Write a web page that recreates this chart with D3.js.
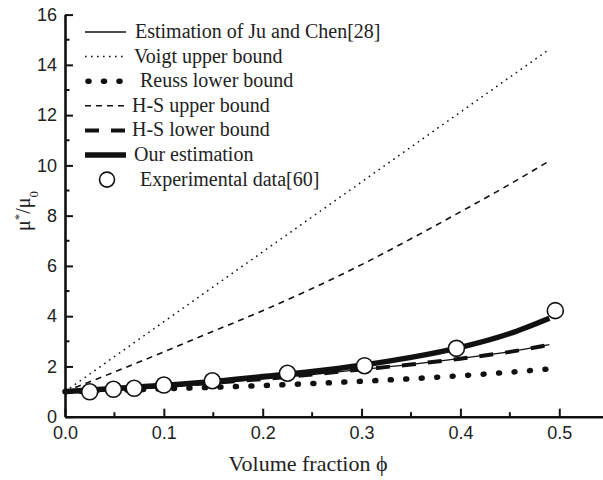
<!DOCTYPE html>
<html>
<head>
<meta charset="utf-8">
<script src="https://cdn.jsdelivr.net/npm/d3@7"></script>
<style>
  body { margin: 0; background: #fff; }
  svg { display: block; }
</style>
</head>
<body>
<svg id="chart" width="603" height="480"></svg>
<script>
// Volume fraction samples shared by the model curves
const phiGrid   = [0, 0.05, 0.10, 0.15, 0.20, 0.25, 0.30, 0.35, 0.40, 0.45, 0.49];
// Normalised effective shear modulus mu*/mu0 for each model
const juChen    = [1.00, 1.10, 1.22, 1.35, 1.50, 1.68, 1.88, 2.08, 2.32, 2.59, 2.87];
const voigtUp   = [1.00, 2.39, 3.78, 5.17, 6.56, 7.95, 9.34, 10.73, 12.12, 13.51, 14.62];
const reussLow  = [1.00, 1.05, 1.11, 1.17, 1.24, 1.32, 1.41, 1.51, 1.63, 1.77, 1.90];
const hsUpper   = [1.00, 1.78, 2.58, 3.40, 4.22, 5.10, 6.05, 7.08, 8.15, 9.25, 10.18];
const hsLower   = [1.00, 1.10, 1.22, 1.35, 1.50, 1.68, 1.88, 2.08, 2.31, 2.58, 2.86];
const ourModel  = [1.00, 1.12, 1.25, 1.40, 1.60, 1.80, 2.05, 2.36, 2.76, 3.31, 3.92];
// Measured values
const expPhi    = [0.025, 0.049, 0.070, 0.100, 0.149, 0.225, 0.303, 0.396, 0.496];
const expValue  = [0.99, 1.09, 1.13, 1.26, 1.43, 1.73, 2.03, 2.72, 4.22];
// Axis ticks
const xTicks    = [0, 0.1, 0.2, 0.3, 0.4, 0.5];
const xMinor    = [0.05, 0.15, 0.25, 0.35, 0.45, 0.55];
const yTicks    = [0, 2, 4, 6, 8, 10, 12, 14, 16];
const yMinor    = [1, 3, 5, 7, 9, 11, 13, 15];
// Legend entries
const legendLabels = [
  "Estimation of Ju and Chen[28]",
  "Voigt upper bound",
  "Reuss lower bound",
  "H-S upper bound",
  "H-S lower bound",
  "Our estimation",
  "Experimental data[60]"
];

const svg = d3.select("#chart");
const x = d3.scaleLinear().domain([0, 0.55]).range([65, 608.7]);
const y = d3.scaleLinear().domain([0, 16]).range([416.7, 14.6]);

const styles = {
  juChen:  { width: 1.3, dash: null, cap: "butt" },
  voigt:   { width: 1.5, dash: "1.6 4.4", cap: "butt" },
  reuss:   { width: 5.5, dash: "1 14.5", cap: "round" },
  hsUp:    { width: 1.6, dash: "6 5", cap: "butt" },
  hsLow:   { width: 4,   dash: "14 12", cap: "butt" },
  ours:    { width: 5.5, dash: null, cap: "butt" }
};

const line = d3.line()
  .x(d => x(d[0]))
  .y(d => y(d[1]))
  .curve(d3.curveMonotoneX);

function drawSeries(values, st) {
  svg.append("path")
    .datum(phiGrid.map((p, i) => [p, values[i]]))
    .attr("d", line)
    .attr("fill", "none")
    .attr("stroke", "#111")
    .attr("stroke-width", st.width)
    .attr("stroke-linecap", st.cap)
    .attr("stroke-dasharray", st.dash);
}

drawSeries(reussLow, styles.reuss);
drawSeries(voigtUp, styles.voigt);
drawSeries(hsUpper, styles.hsUp);
drawSeries(hsLower, styles.hsLow);
drawSeries(juChen, styles.juChen);
drawSeries(ourModel, styles.ours);

svg.append("g").selectAll("circle")
  .data(expPhi.map((p, i) => [p, expValue[i]]))
  .join("circle")
  .attr("cx", d => x(d[0]))
  .attr("cy", d => y(d[1]))
  .attr("r", 8)
  .attr("fill", "#fff")
  .attr("stroke", "#111")
  .attr("stroke-width", 1.6);

// Axes with inward ticks
const axisFont = "'Liberation Sans', Arial, sans-serif";
const gx = svg.append("g").attr("transform", `translate(0,${y(0)})`)
  .call(d3.axisBottom(x).tickValues(xTicks).tickFormat(d3.format(".1f")).tickSizeInner(-8).tickSizeOuter(0).tickPadding(10));
gx.append("g").selectAll("line").data(xMinor).join("line")
  .attr("x1", d => x(d)).attr("x2", d => x(d)).attr("y1", 0).attr("y2", -4.5)
  .attr("stroke", "#111").attr("stroke-width", 2);

const gy = svg.append("g").attr("transform", `translate(${x(0)},0)`)
  .call(d3.axisLeft(y).tickValues(yTicks).tickFormat(d3.format("d")).tickSizeInner(-8).tickSizeOuter(0).tickPadding(8));
gy.append("g").selectAll("line").data(yMinor).join("line")
  .attr("y1", d => y(d)).attr("y2", d => y(d)).attr("x1", 0).attr("x2", 4.5)
  .attr("stroke", "#111").attr("stroke-width", 2);

[gx, gy].forEach(g => {
  g.select(".domain").attr("stroke", "#111").attr("stroke-width", 2.6);
  g.selectAll(".tick line").attr("stroke", "#111").attr("stroke-width", 2);
  g.selectAll(".tick text").attr("fill", "#222")
    .style("font-family", axisFont).style("font-size", "18px");
});

// Axis titles
const serif = "'Liberation Serif', 'Times New Roman', serif";
svg.append("text")
  .attr("x", 308).attr("y", 471)
  .attr("text-anchor", "middle")
  .style("font-family", serif).style("font-size", "22px").attr("fill", "#222")
  .text("Volume fraction \u03D5");

const yl = svg.append("text")
  .attr("transform", "translate(30,211) rotate(-90)")
  .attr("text-anchor", "middle")
  .style("font-family", serif).style("font-size", "20px").attr("fill", "#222");
yl.append("tspan").text("\u03BC");
yl.append("tspan").attr("baseline-shift", "super").style("font-size", "13px").text("*");
yl.append("tspan").text("/\u03BC");
yl.append("tspan").attr("baseline-shift", "sub").style("font-size", "13px").text("0");

// Legend
const legendKeys = ["juChen", "voigt", "reuss", "hsUp", "hsLow", "ours", "exp"];
const legendTextX = [135, 134, 140, 132, 132, 134, 140];
const lg = svg.append("g");
legendKeys.forEach((k, i) => {
  const cy = 32 + i * 24.6;
  if (k === "exp") {
    lg.append("circle").attr("cx", 107).attr("cy", cy).attr("r", 7.5)
      .attr("fill", "#fff").attr("stroke", "#111").attr("stroke-width", 1.6);
  } else {
    const st = styles[k];
    const x1 = k === "reuss" ? 88 : 85;
    const x2 = k === "reuss" ? 120 : 126;
    lg.append("line").attr("x1", x1).attr("x2", x2).attr("y1", cy).attr("y2", cy)
      .attr("stroke", "#111").attr("stroke-width", st.width)
      .attr("stroke-linecap", st.cap).attr("stroke-dasharray", st.dash);
  }
  lg.append("text").attr("x", legendTextX[i]).attr("y", cy + 6)
    .style("font-family", serif).style("font-size", "20px").attr("fill", "#222")
    .text(legendLabels[i]);
});
</script>
</body>
</html>
